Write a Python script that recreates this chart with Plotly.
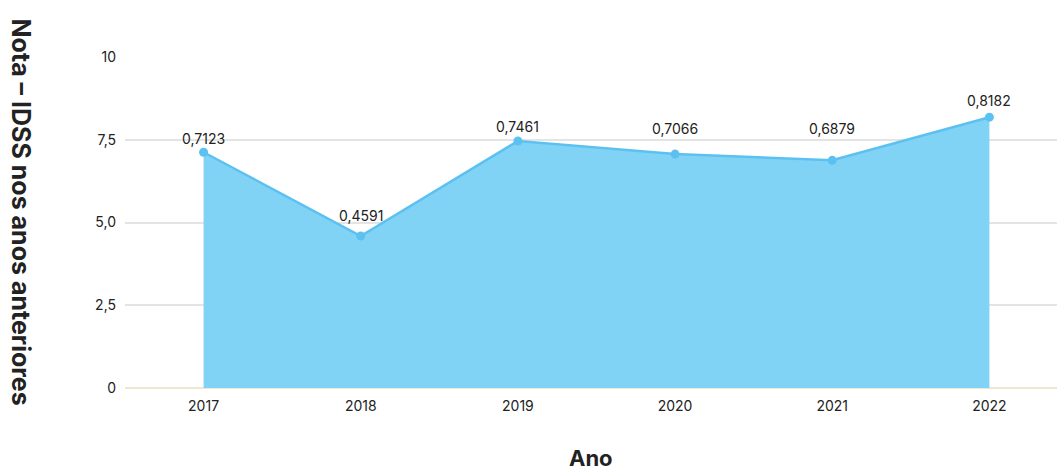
import plotly.graph_objects as go

years = ["2017", "2018", "2019", "2020", "2021", "2022"]
idss = [0.7123, 0.4591, 0.7461, 0.7066, 0.6879, 0.8182]
y_tick_vals = [0, 2.5, 5.0, 7.5, 10]
y_tick_text = ["0", "2,5", "5,0", "7,5", "10"]
label_shift = [14, 21, 15, 26, 32, 17]

scaled = [v * 10 for v in idss]
labels = [f"{v:.4f}".replace(".", ",") for v in idss]

FONT = "Inter"
W, H = 1057, 472
L, R, T, B = 125, 0, 57, 84

fig = go.Figure()
fig.add_trace(go.Scatter(
    x=years, y=scaled, mode="lines+markers",
    fill="tozeroy", fillcolor="rgba(129,211,246,1)",
    line=dict(color="#5CC1F1", width=2.5),
    marker=dict(color="#5CC1F1", size=9),
    hoverinfo="skip", showlegend=False,
))

for i, (y, t, s) in enumerate(zip(scaled, labels, label_shift)):
    fig.add_annotation(x=i, y=y, xref="x", yref="y", text=t, showarrow=False, yshift=s,
                       font=dict(family=FONT, size=14, color="#222"))

fig.add_annotation(xref="paper", yref="paper", x=(21 - L) / (W - L - R), y=(H - B - 211.5) / (H - T - B),
                   xanchor="center", yanchor="middle",
                   text="<b>Nota – IDSS nos anos anteriores</b>", textangle=90, showarrow=False,
                   font=dict(family=FONT, size=25, color="#222"))
fig.add_annotation(xref="paper", yref="paper", x=0.5, y=(H - B - 458) / (H - T - B),
                   xanchor="center", yanchor="middle", borderpad=0,
                   text="<b>Ano</b>", showarrow=False,
                   font=dict(family=FONT, size=22, color="#222"))

fig.update_layout(
    width=W, height=H,
    margin=dict(l=L, r=R, t=T, b=B),
    plot_bgcolor="white", paper_bgcolor="white",
    xaxis=dict(
        type="category", range=[-0.5, 5.43], showgrid=False, zeroline=False, showline=False,
        tickfont=dict(family=FONT, size=14, color="#222"), ticks="", ticklabelstandoff=8,
    ),
    yaxis=dict(
        range=[0, 10], tickvals=y_tick_vals, ticktext=y_tick_text,
        showgrid=True, gridcolor="#E4E4E4", gridwidth=1.5,
        zeroline=True, zerolinecolor="#ECE8D2", zerolinewidth=2,
        tickfont=dict(family=FONT, size=14, color="#222"), ticks="", ticklabelstandoff=8,
    ),
)

fig.write_html("out.html", config={"displayModeBar": False},
               post_script="document.body.style.margin='0';")
